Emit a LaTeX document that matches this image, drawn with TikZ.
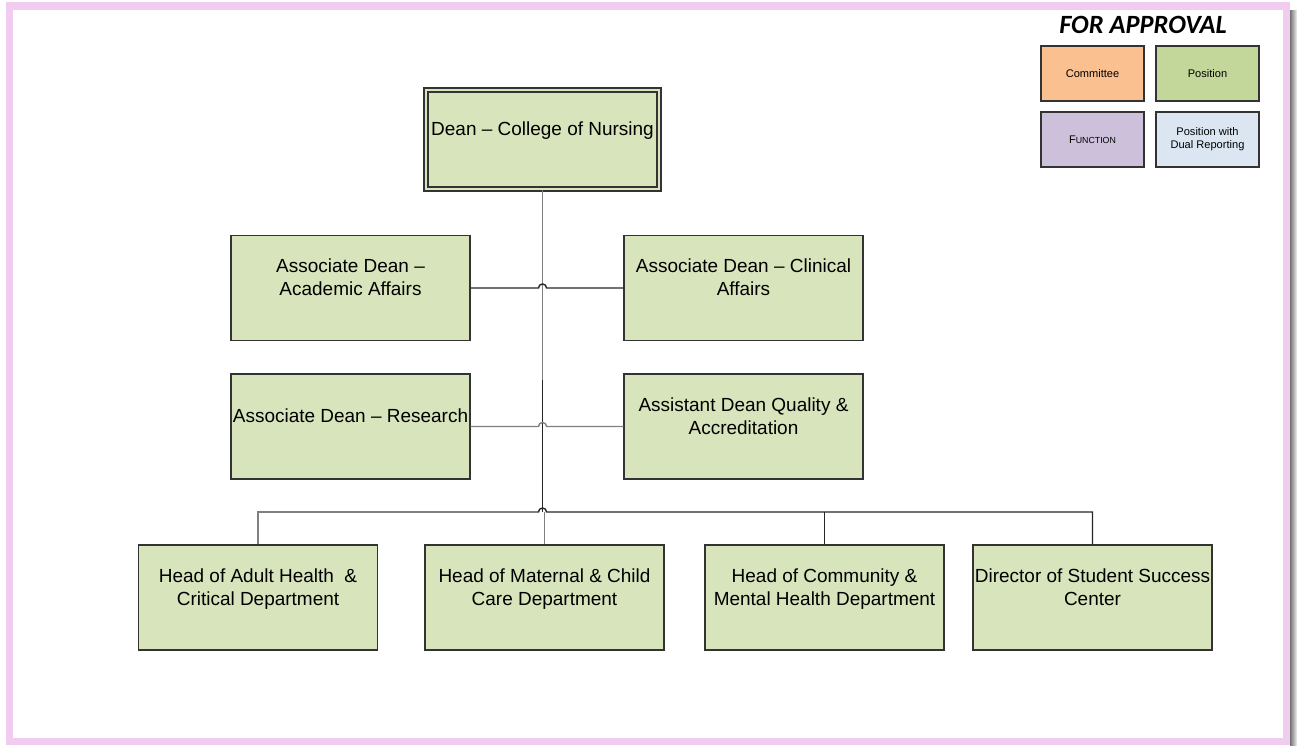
\documentclass[tikz,border=0pt]{standalone}
\usepackage{fontspec}
\setmainfont{Liberation Sans}
\newfontfamily\calib{Carlito}
\usetikzlibrary{positioning, calc}
\definecolor{posgreen}{HTML}{D8E4BC}
\definecolor{framepink}{HTML}{F0CCEE}
\definecolor{boxline}{HTML}{333333}
\definecolor{commorange}{HTML}{FAC090}
\definecolor{legendgreen}{HTML}{C4D79B}
\definecolor{funcpurple}{HTML}{CCC0DA}
\definecolor{dualblue}{HTML}{DCE6F2}

\begin{document}
\begin{tikzpicture}[x=0.02cm, y=-0.02cm,
      block/.style={
        minimum width=4.78cm,
        minimum height=2.1cm,
        align=center,
        inner sep=1pt,
        text depth=12pt,
        line width=0.8pt,
        draw=boxline,
        fill=posgreen,
        font=\fontsize{10.8}{13.1}\selectfont,
      },
      legend/.style={
        minimum width=2.06cm,
        minimum height=1.1cm,
        align=center,
        inner sep=1pt,
        line width=0.8pt,
        draw=boxline,
        font=\fontsize{6.3}{7.4}\selectfont,
      },
      link/.style={draw=black!85, line width=0.8pt},
      faint/.style={draw=black!50, line width=0.8pt},
      ]
      \useasboundingbox (0,0) rectangle (1297,745);
      \shade[left color=black!55, right color=black!5] (1290,10) rectangle (1297,745);
      \draw[framepink, line width=4pt] (9.5,6) rectangle (1286,741.5);

      \node[block, minimum width=4.66cm, minimum height=1.98cm, line width=0.8pt,
        double=posgreen, double distance=1.3pt] (dean) at (542.5,139.5) {Dean -- College of Nursing};
      \node[block] (acad) at (350.5,288) {Associate Dean --\\Academic Affairs};
      \node[block] (clin) at (743.5,288) {Associate Dean -- Clinical\\Affairs};
      \node[block] (res) at (350.5,426.5) {Associate Dean -- Research};
      \node[block] (qual) at (743.5,426.5) {Assistant Dean Quality \&\\Accreditation};
      \node[block] (adult) at (258,597.5) {Head of Adult Health\ \ \&\\Critical Department};
      \node[block] (mat) at (544.5,597.5) {Head of Maternal \& Child\\Care Department};
      \node[block] (comm) at (824.5,597.5) {Head of Community \&\\Mental Health Department};
      \node[block] (dir) at (1092.5,597.5) {Director of Student Success\\Center};

      \node[font=\calib\fontsize{15}{18}\selectfont\bfseries\itshape] (title) at (1143,25) {FOR APPROVAL};
      \node[legend, fill=commorange] (lcomm) at (1092.5,73.5) {Committee};
      \node[legend, fill=legendgreen] (lpos) at (1207.5,73.5) {Position};
      \node[legend, fill=funcpurple] (lfunc) at (1092.5,139.5) {F{\fontsize{5}{6}\selectfont UNCTION}};
      \node[legend, fill=dualblue] (ldual) at (1207.5,139.5) {Position with\\Dual Reporting};

      \coordinate (split) at (542.5,380);
      \coordinate (bus) at (542.5,512);
      \draw[faint] (dean) -- (split);
      \draw[link] (split) -- (bus);
      \draw[link] (acad) -- ($(acad.east -| dean.south)+(-4,0)$)
        arc[start angle=180, end angle=0, radius=2.3pt] -- (clin);
      \draw[faint] (res) -- ($(res.east -| dean.south)+(-4,0)$)
        arc[start angle=180, end angle=0, radius=2.3pt] -- (qual);
      \draw[faint] (adult.north) |- ($(bus)+(-4,0)$);
      \draw[link] ($(bus)+(-4,0)$) arc[start angle=180, end angle=0, radius=2.3pt]
        -- (bus -| dir.north) -- (dir.north);
      \draw[faint] (mat.north) -- (mat.north |- bus);
      \draw[link] (comm.north) -- (comm.north |- bus);
    \end{tikzpicture}
\end{document}
